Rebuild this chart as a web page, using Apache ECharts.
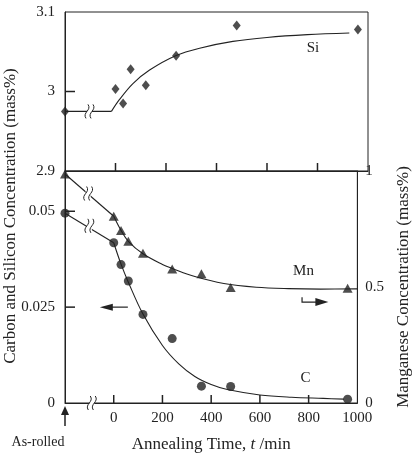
<!DOCTYPE html>
<html>
<head>
<meta charset="utf-8">
<script src="https://cdn.jsdelivr.net/npm/echarts@6/dist/echarts.min.js"></script>
<style>
  html, body { margin: 0; padding: 0; background: #fff; }
  #chart { width: 420px; height: 458px; }
</style>
</head>
<body>
<div id="chart"></div>
<script>
// annealing times (min); as-rolled state is drawn at the left edge
var asRolledTime = -200
var sampleTimes = [0, 30, 60, 120, 240, 360, 480, 960]
var siTimes = [0, 30, 60, 120, 240, 480, 960]

// measured points
var siValues = [3.003, 2.985, 3.028, 3.008, 3.045, 3.083, 3.078]
var mnValues = [0.805, 0.744, 0.697, 0.646, 0.578, 0.557, 0.498, 0.495]
var cValues = [0.0418, 0.0361, 0.0318, 0.0231, 0.0168, 0.0044, 0.0043, 0.001]
var siAsRolled = 2.975
var mnAsRolled = 0.987
var cAsRolled = 0.0495

// fitted curves
var siFlat = [[-200, 2.975], [-16, 2.975]]
var siFit = [[-16, 2.975], [16, 2.99], [69, 3.01], [135, 3.027], [238, 3.045],
  [333, 3.0545], [465, 3.063], [600, 3.068], [760, 3.0715], [926, 3.0736]]
var mnLead = [[-200, 0.987], [0, 0.805]]
var mnFit = [[0, 0.805], [30, 0.744], [60, 0.697], [120, 0.643], [200, 0.597], [240, 0.58],
  [333, 0.545], [452, 0.515], [585, 0.499], [717, 0.493], [849, 0.491], [1000, 0.492]]
var cLead = [[-200, 0.0495], [0, 0.0418]]
var cFit = [[0, 0.0418], [30, 0.0362], [60, 0.0315], [120, 0.0232], [200, 0.015],
  [267, 0.0102], [333, 0.0069], [400, 0.0048], [466, 0.0035], [600, 0.0021],
  [730, 0.0015], [860, 0.0012], [945, 0.001]]

// tick marks drawn inside the frame
var timeTicks = [0, 200, 400, 600, 800]
var siTicks = [3]
var cTicks = [0.025, 0.05]

// axis breaks (time, value)
var siBreak = [[-103, 2.975]]
var mnBreak = [[-105, 0.903]]
var cBreaks = [[-100, 0.0462], [-90, 0]]

var FONT = 'Liberation Serif'
var INK = '#222'

function pairs(ts, vs) {
  return ts.map(function (t, i) { return [t, vs[i]] })
}

function breakItem(params, api) {
  var p = api.coord([api.value(0), api.value(1)])
  var wave = function (dx) {
    return {
      type: 'bezierCurve',
      shape: { x1: dx + 1, y1: -7, x2: dx - 1, y2: 7, cpx1: dx + 5, cpy1: -1, cpx2: dx - 5, cpy2: 1 },
      style: { stroke: INK, fill: 'none', lineWidth: 1 }
    }
  }
  return {
    type: 'group', x: p[0], y: p[1],
    children: [
      { type: 'rect', shape: { x: -2.5, y: -6, width: 5, height: 12 }, style: { fill: '#fff' } },
      wave(-2.5), wave(2.5)
    ]
  }
}

// vertical tick pointing up from the axis
function xTickItem(params, api) {
  var p = api.coord([api.value(0), api.value(1)])
  return { type: 'line', shape: { x1: p[0], y1: p[1], x2: p[0], y2: p[1] - 8 },
    style: { stroke: INK, lineWidth: 1.5 } }
}
// horizontal tick pointing right from the left axis
function yTickItem(params, api) {
  var p = api.coord([api.value(0), api.value(1)])
  return { type: 'line', shape: { x1: p[0], y1: p[1], x2: p[0] + 10, y2: p[1] },
    style: { stroke: INK, lineWidth: 1.5 } }
}

var chart = echarts.init(document.getElementById('chart'), null, { renderer: 'canvas' })

function axisLine() {
  return { show: true, onZero: false, lineStyle: { color: INK, width: 1 } }
}
function labelStyle(extra) {
  return Object.assign({ fontFamily: FONT, fontSize: 15, color: INK }, extra)
}

var fitLine = { type: 'line', showSymbol: false, symbol: 'none', silent: true,
  lineStyle: { color: INK, width: 1.1 }, z: 2 }

var option = {
  animation: false,
  textStyle: { fontFamily: FONT, color: INK },
  grid: [
    { left: 65, top: 12, width: 303, height: 159, show: true, borderColor: INK, borderWidth: 1 },
    { left: 65, top: 171, width: 303, height: 237, show: true, borderColor: INK, borderWidth: 1 }
  ],
  xAxis: [
    { type: 'value', gridIndex: 0, position: 'bottom', min: -200, max: 1000, interval: 200,
      axisLine: axisLine(), axisTick: { show: false }, splitLine: { show: false },
      axisLabel: { show: false } },
    { type: 'value', gridIndex: 1, position: 'bottom', min: -200, max: 1000, interval: 200,
      axisLine: axisLine(), axisTick: { show: false }, splitLine: { show: false },
      axisLabel: labelStyle({ margin: 8, formatter: function (v) { return v < 0 ? '' : String(v) } }),
      name: 'Annealing Time, {i|t} /min',
      nameLocation: 'middle', nameGap: 33,
      nameTextStyle: { fontFamily: FONT, fontSize: 17, color: INK,
        rich: { i: { fontFamily: FONT, fontSize: 17, fontStyle: 'italic', color: INK } } } }
  ],
  yAxis: [
    { type: 'value', gridIndex: 0, position: 'left', min: 2.9, max: 3.1, interval: 0.1,
      axisLine: axisLine(), axisTick: { show: false }, splitLine: { show: false },
      axisLabel: labelStyle({ margin: 10, formatter: function (v) { return String(+v.toFixed(2)) } }) },
    { type: 'value', gridIndex: 1, position: 'left', min: 0, max: 0.0605, interval: 0.025,
      axisLine: axisLine(), axisTick: { show: false }, splitLine: { show: false },
      axisLabel: labelStyle({ margin: 10, showMaxLabel: false,
        formatter: function (v) { return v > 0.055 ? '' : String(+v.toFixed(3)) } }) },
    { type: 'value', gridIndex: 1, position: 'right', min: 0, max: 1, interval: 0.5,
      axisLine: axisLine(), axisTick: { show: false }, splitLine: { show: false },
      axisLabel: labelStyle({ margin: 8 }),
      name: 'Manganese Concentration (mass%)', nameLocation: 'middle', nameGap: 28,
      nameTextStyle: { fontFamily: FONT, fontSize: 17, color: INK } }
  ],
  series: [
    // ticks
    { type: 'custom', name: 'top time ticks', xAxisIndex: 0, yAxisIndex: 0, silent: true, z: 3, clip: false,
      data: timeTicks.map(function (t) { return [t, 2.9] }), renderItem: xTickItem },
    { type: 'custom', name: 'bottom time ticks', xAxisIndex: 1, yAxisIndex: 1, silent: true, z: 3, clip: false,
      data: timeTicks.map(function (t) { return [t, 0] }), renderItem: xTickItem },
    { type: 'custom', name: 'Si ticks', xAxisIndex: 0, yAxisIndex: 0, silent: true, z: 3, clip: false,
      data: siTicks.map(function (v) { return [asRolledTime, v] }), renderItem: yTickItem },
    { type: 'custom', name: 'C ticks', xAxisIndex: 1, yAxisIndex: 1, silent: true, z: 3, clip: false,
      data: cTicks.map(function (v) { return [asRolledTime, v] }), renderItem: yTickItem },
    // fitted curves
    Object.assign({}, fitLine, { name: 'Si flat', xAxisIndex: 0, yAxisIndex: 0, data: siFlat }),
    Object.assign({}, fitLine, { name: 'Si fit', xAxisIndex: 0, yAxisIndex: 0, data: siFit, smooth: 0.35 }),
    Object.assign({}, fitLine, { name: 'Mn lead', xAxisIndex: 1, yAxisIndex: 2, data: mnLead }),
    Object.assign({}, fitLine, { name: 'Mn fit', xAxisIndex: 1, yAxisIndex: 2, data: mnFit, smooth: 0.35 }),
    Object.assign({}, fitLine, { name: 'C lead', xAxisIndex: 1, yAxisIndex: 1, data: cLead }),
    Object.assign({}, fitLine, { name: 'C fit', xAxisIndex: 1, yAxisIndex: 1, data: cFit, smooth: 0.35 }),
    // breaks
    { type: 'custom', name: 'Si break', xAxisIndex: 0, yAxisIndex: 0, data: siBreak, renderItem: breakItem, z: 5, clip: false },
    { type: 'custom', name: 'Mn break', xAxisIndex: 1, yAxisIndex: 2, data: mnBreak, renderItem: breakItem, z: 5, clip: false },
    { type: 'custom', name: 'C break', xAxisIndex: 1, yAxisIndex: 1, data: cBreaks, renderItem: breakItem, z: 5, clip: false },
    // measured points
    { type: 'scatter', name: 'Si', xAxisIndex: 0, yAxisIndex: 0, clip: false, z: 6,
      symbol: 'diamond', symbolSize: [8, 10], itemStyle: { color: INK },
      data: [[asRolledTime, siAsRolled]].concat(pairs(siTimes, siValues)) },
    { type: 'scatter', name: 'Mn', xAxisIndex: 1, yAxisIndex: 2, clip: false, z: 6,
      symbol: 'triangle', symbolSize: [10, 9], itemStyle: { color: INK },
      data: [[asRolledTime, mnAsRolled]].concat(pairs(sampleTimes, mnValues)) },
    { type: 'scatter', name: 'C', xAxisIndex: 1, yAxisIndex: 1, clip: false, z: 6,
      symbol: 'circle', symbolSize: 9, itemStyle: { color: INK },
      data: [[asRolledTime, cAsRolled]].concat(pairs(sampleTimes, cValues)) }
  ]
}

chart.setOption(option)

// annotations placed through the axes
var siLabelAt = [782, 3.055]
var mnLabelAt = [779, 0.568]
var cLabelAt = [787, 0.0065]
var cArrowFrom = [58, 0.025]
var cArrowTo = [-57, 0.025]
var mnArrowCorner = [773, 0.456]
var mnArrowTo = [881, 0.435]

function px(xi, yi, pt) {
  return chart.convertToPixel({ xAxisIndex: xi, yAxisIndex: yi }, pt)
}

function label(text, p, size) {
  return { type: 'text', x: p[0], y: p[1], z: 10,
    style: { text: text, font: size + 'px "' + FONT + '"', fill: INK, align: 'center', verticalAlign: 'middle' } }
}

var si = px(0, 0, siLabelAt)
var mn = px(1, 2, mnLabelAt)
var c = px(1, 1, cLabelAt)
var ca = px(1, 1, cArrowFrom)
var cb = px(1, 1, cArrowTo)
var mc = px(1, 2, mnArrowCorner)
var mt = px(1, 2, mnArrowTo)
var base = px(1, 1, [asRolledTime, 0])

var graphics = [
  label('Si', si, 15),
  label('Mn', mn, 15),
  label('C', c, 15),
  // left-pointing arrow (carbon/silicon axis)
  { type: 'line', z: 10, shape: { x1: ca[0], y1: ca[1], x2: cb[0] + 10, y2: cb[1] }, style: { stroke: INK, lineWidth: 1.2 } },
  { type: 'polygon', z: 10, shape: { points: [[cb[0], cb[1]], [cb[0] + 13, cb[1] - 3.5], [cb[0] + 13, cb[1] + 3.5]] }, style: { fill: INK } },
  // right-pointing arrow (manganese axis)
  { type: 'polyline', z: 10, shape: { points: [[mc[0], mc[1]], [mc[0], mt[1]], [mt[0] - 10, mt[1]]] }, style: { stroke: INK, lineWidth: 1.2, fill: 'none' } },
  { type: 'polygon', z: 10, shape: { points: [[mt[0], mt[1]], [mt[0] - 13, mt[1] - 4], [mt[0] - 13, mt[1] + 4]] }, style: { fill: INK } },
  // as-rolled marker below the axis
  { type: 'line', z: 10, shape: { x1: base[0], y1: base[1] + 9, x2: base[0], y2: base[1] + 23 }, style: { stroke: INK, lineWidth: 1.5 } },
  { type: 'polygon', z: 10, shape: { points: [[base[0], base[1] + 3], [base[0] - 4, base[1] + 12], [base[0] + 4, base[1] + 12]] }, style: { fill: INK } },
  label('As-rolled', [base[0] - 27, base[1] + 39], 14),
  // left title spanning both panels
  { type: 'text', x: 11, y: 216, rotation: Math.PI / 2, z: 10,
    style: { text: 'Carbon and Silicon Concentration (mass%)', font: '17px "' + FONT + '"', fill: INK,
      align: 'center', verticalAlign: 'middle' } }
]

chart.setOption({ graphic: graphics })
</script>
</body>
</html>
